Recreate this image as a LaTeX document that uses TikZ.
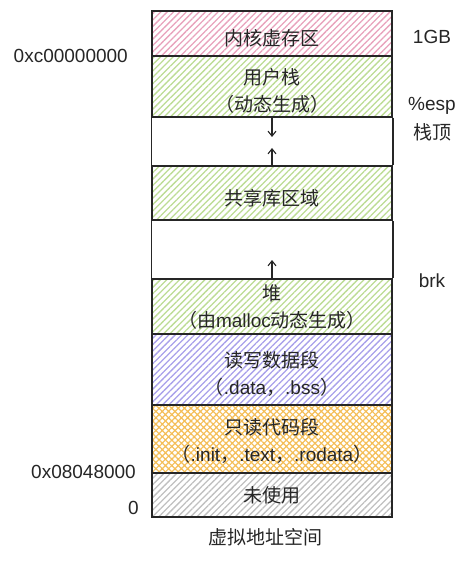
\documentclass[tikz,border=0pt]{standalone}
\usepackage{fontspec}
\setmainfont{Liberation Sans}
\newfontfamily\cjk{Noto Sans CJK SC}
\usetikzlibrary{patterns.meta,arrows.meta,positioning}
\definecolor{kernelpink}{HTML}{E8A2BC}
\definecolor{stackgreen}{HTML}{BCDC94}
\definecolor{datapurple}{HTML}{A8A0EA}
\definecolor{codeorange}{HTML}{F4BE58}
\definecolor{unusedgray}{HTML}{C0C0C0}
\tikzset{
	seg/.style={draw=black!85, line width=1.5bp, minimum width=240bp, inner sep=0pt},
	hatched/.style={seg, pattern={Lines[angle=45,distance=4.5bp,line width=1.3bp]}, pattern color=#1},
	crossed/.style={seg, pattern={Hatch[angle=45,distance=4.5bp,line width=1.2bp]}, pattern color=#1},
	seglabel/.style={align=center, inner sep=0pt},
	lbl/.style={inner sep=0pt},
	growarrow/.style={-{Straight Barb[length=5bp,width=8bp]}, line width=1.1bp, black!85}
}
\begin{document}
\begin{tikzpicture}[x=1bp,y=-1bp,font=\fontsize{19bp}{27bp}\selectfont,text=black!85]
		\useasboundingbox (0,0) rectangle (466,561);

		% segments, top to bottom
		\node[hatched=kernelpink, minimum height=45bp,
			label={[seglabel,yshift=-5bp]center:{\cjk 内核虚存区}}] (kernel) at (272,33.5) {};
		\node[hatched=stackgreen, minimum height=61bp,
			label={[seglabel,yshift=-4bp]center:{\cjk 用户栈}\\{\cjk （动态生成）}}] (ustack) at (272,86.5) {};
		\node[hatched=stackgreen, minimum height=54bp,
			label={[seglabel,yshift=-5bp]center:{\cjk 共享库区域}}] (shlib) at (272,193) {};
		\node[hatched=stackgreen, minimum height=55bp,
			label={[seglabel,yshift=0bp]center:{\cjk 堆}\\{\cjk （由}malloc{\cjk 动态生成）}}] (heap) at (272,306.5) {};
		\node[hatched=datapurple, minimum height=71bp,
			label={[seglabel,yshift=-4bp]center:{\cjk 读写数据段}\\{\cjk （}.data{\cjk ，}.bss{\cjk ）}}] (rwdata) at (272,369.5) {};
		\node[crossed=codeorange, minimum height=68bp,
			label={[seglabel,yshift=-1.5bp]center:{\cjk 只读代码段}\\{\cjk （}.init{\cjk ，}.text{\cjk ，}.rodata{\cjk ）}}] (rocode) at (272,439) {};
		\node[hatched=unusedgray, minimum height=44bp,
			label={[seglabel]center:{\cjk 未使用}}] (unused) at (272,495) {};

		% empty gaps
		\draw[line width=1.5bp, black!85] (ustack.south west) -- (shlib.north west) (ustack.south east) -- (shlib.north east);
		\draw[line width=1.5bp, black!85] (shlib.south west) -- (heap.north west) (shlib.south east) -- (heap.north east);

		% growth arrows
		\coordinate (espdown) at (272,137);
		\coordinate (libup) at (272,148);
		\coordinate (brkup) at (272,260);
		\draw[growarrow] (ustack.south) -- (espdown);
		\draw[growarrow] (shlib.north) -- (libup);
		\draw[growarrow] (heap.north) -- (brkup);

		% addresses
		\node[lbl, left] (addrtop) at (128,56) {0xc00000000};
		\node[lbl, left] (addrcode) at (136,471.5) {0x08048000};
		\node[lbl, left] (addrzero) at (139,508) {0};

		% right side
		\node[lbl] (gbsize) at (432,37) {1GB};
		\node[lbl] (espreg) at (432,106) {\%esp};
		\node[lbl] (stacktop) at (432,132) {{\cjk 栈顶}};
		\node[lbl] (brkptr) at (432,281) {brk};
		\node[lbl] (vspace) at (265,537) {{\cjk 虚拟地址空间}};
	\end{tikzpicture}
\end{document}
